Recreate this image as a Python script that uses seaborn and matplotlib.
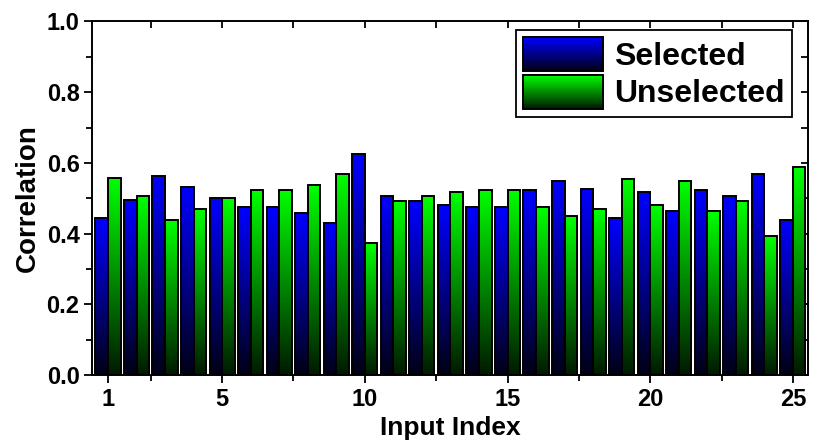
import numpy as np
import pandas as pd
import matplotlib
matplotlib.use("Agg")
import matplotlib.pyplot as plt
import seaborn as sns
from matplotlib.patches import Rectangle
from matplotlib.legend_handler import HandlerBase
from matplotlib.ticker import FixedLocator, MultipleLocator

# ---- data -------------------------------------------------------------
input_index = list(range(1, 26))
selected = [0.444, 0.494, 0.563, 0.531, 0.500, 0.475, 0.475, 0.457, 0.431, 0.624,
            0.506, 0.493, 0.481, 0.475, 0.475, 0.524, 0.550, 0.525, 0.443, 0.519,
            0.463, 0.524, 0.506, 0.569, 0.438]
unselected = [0.556, 0.507, 0.438, 0.469, 0.500, 0.524, 0.524, 0.537, 0.569, 0.374,
              0.493, 0.506, 0.519, 0.524, 0.524, 0.475, 0.449, 0.469, 0.555, 0.481,
              0.549, 0.463, 0.493, 0.393, 0.587]
series_names = ["Selected", "Unselected"]
xtick_labels = [1, 5, 10, 15, 20, 25]
ytick_values = [0.0, 0.2, 0.4, 0.6, 0.8, 1.0]

df = pd.DataFrame({
    "Input Index": input_index * 2,
    "Correlation": selected + unselected,
    "Series": [series_names[0]] * len(selected) + [series_names[1]] * len(unselected),
})

# ---- style ------------------------------------------------------------
sns.set_theme(style="white")
plt.rcParams["font.family"] = ["Liberation Sans", "DejaVu Sans"]
plt.rcParams["font.weight"] = "bold"
plt.rcParams["text.color"] = "black"
plt.rcParams["axes.labelcolor"] = "black"
plt.rcParams["xtick.color"] = "black"
plt.rcParams["ytick.color"] = "black"

BLUE_TOP, BLUE_BOT = np.array([0.0, 0.0, 1.0]), np.array([0.0, 0.0, 0.08])
GREEN_TOP, GREEN_BOT = np.array([0.0, 1.0, 0.0]), np.array([0.0, 0.10, 0.0])

W, H = 813, 448
fig = plt.figure(figsize=(W / 100, H / 100), dpi=100)
L, R, T, B = 92, 808, 21.5, 375
ax = fig.add_axes([L / W, (H - B) / H, (R - L) / W, (B - T) / H])

sns.barplot(data=df, x="Input Index", y="Correlation", hue="Series",
            hue_order=series_names, palette=["#0000ff", "#00ff00"],
            saturation=1, width=0.88, gap=0, ax=ax, legend=False,
            edgecolor="black", linewidth=1.4, errorbar=None)

XL = (-0.56, 24.53)
YL = (0.0, 1.0)

# gradient fill for each bar
n = 128
for p in list(ax.patches):
    x0, y0 = p.get_x(), p.get_y()
    w, h = p.get_width(), p.get_height()
    fc = p.get_facecolor()
    if fc[1] > fc[2]:
        top, bot = GREEN_TOP, GREEN_BOT
    else:
        top, bot = BLUE_TOP, BLUE_BOT
    t = np.linspace(1, 0, n)[:, None, None]
    img = bot + (top - bot) * t
    im = ax.imshow(img, extent=[x0, x0 + w, y0, y0 + h], origin="upper",
                   aspect="auto", interpolation="bilinear",
                   zorder=p.get_zorder() - 0.01)
    im.set_clip_path(p)
    p.set_facecolor("none")

ax.set_xlim(*XL)
ax.set_ylim(*YL)

# ---- axes, ticks ------------------------------------------------------
for s in ax.spines.values():
    s.set_visible(True)
    s.set_color("black")
    s.set_linewidth(1.4)

ax.xaxis.set_major_locator(FixedLocator([v - 1 for v in xtick_labels]))
ax.set_xticklabels([str(v) for v in xtick_labels])
ax.xaxis.set_minor_locator(FixedLocator([v - 1 for v in np.arange(2.5, 25, 5)]))
ax.set_yticks(ytick_values)
ax.set_yticklabels([f"{v:.1f}" for v in ytick_values])
ax.yaxis.set_minor_locator(MultipleLocator(0.1))

ax.tick_params(axis="both", which="major", direction="out", length=6, width=1.3,
               color="black", labelsize=17, labelcolor="black", pad=3)
ax.tick_params(axis="both", which="minor", direction="out", length=4, width=1.3,
               color="black")
ax.tick_params(left=True, bottom=True, which="both")
for lab in ax.get_xticklabels() + ax.get_yticklabels():
    lab.set_fontweight("bold")

secx = ax.secondary_xaxis("top")
secx.xaxis.set_major_locator(FixedLocator([v - 1 for v in np.arange(2.5, 25.1, 2.5)]))
secx.tick_params(direction="in", length=5, width=1.3, labeltop=False, color="black")
secx.spines["top"].set_visible(False)
secy = ax.secondary_yaxis("right")
secy.yaxis.set_major_locator(MultipleLocator(0.1))
secy.tick_params(direction="in", length=5, width=1.3, labelright=False, color="black")
secy.spines["right"].set_visible(False)

ax.set_xlabel("Input Index", fontsize=19, fontweight="bold", color="black")
ax.set_ylabel("Correlation", fontsize=20, fontweight="bold", color="black")
ax.xaxis.set_label_coords(0.5, -0.115)
ax.yaxis.set_label_coords(-0.072, 0.5)

# ---- legend with gradient handles -------------------------------------
class GradientHandler(HandlerBase):
    def __init__(self, top, bot, strips=40):
        super().__init__()
        self.top, self.bot, self.strips = top, bot, strips

    def create_artists(self, legend, orig_handle, xdescent, ydescent,
                       width, height, fontsize, trans):
        arts = []
        x0, y0 = -xdescent, -ydescent
        hs = height / self.strips
        for i in range(self.strips):
            f = (i + 0.5) / self.strips
            c = self.bot + (self.top - self.bot) * f
            arts.append(Rectangle((x0, y0 + i * hs), width, hs * 1.02,
                                  facecolor=c, edgecolor="none", transform=trans))
        arts.append(Rectangle((x0, y0), width, height, facecolor="none",
                              edgecolor="black", linewidth=1.4, transform=trans))
        return arts

h1 = Rectangle((0, 0), 1, 1)
h2 = Rectangle((0, 0), 1, 1)
leg = ax.legend([h1, h2], series_names,
                handler_map={h1: GradientHandler(BLUE_TOP, BLUE_BOT),
                             h2: GradientHandler(GREEN_TOP, GREEN_BOT)},
                loc="upper right", bbox_to_anchor=((792 - L) / (R - L), (B - 30) / (B - T)),
                borderaxespad=0, frameon=True, fancybox=False,
                handlelength=2.5, handleheight=1.25, handletextpad=0.35,
                labelspacing=0.1, borderpad=0.22, labelcolor="black",
                prop={"weight": "bold", "size": 23})
leg.get_frame().set_edgecolor("black")
leg.get_frame().set_linewidth(1.3)
leg.get_frame().set_alpha(1)

fig.savefig("out.png", dpi=100)
